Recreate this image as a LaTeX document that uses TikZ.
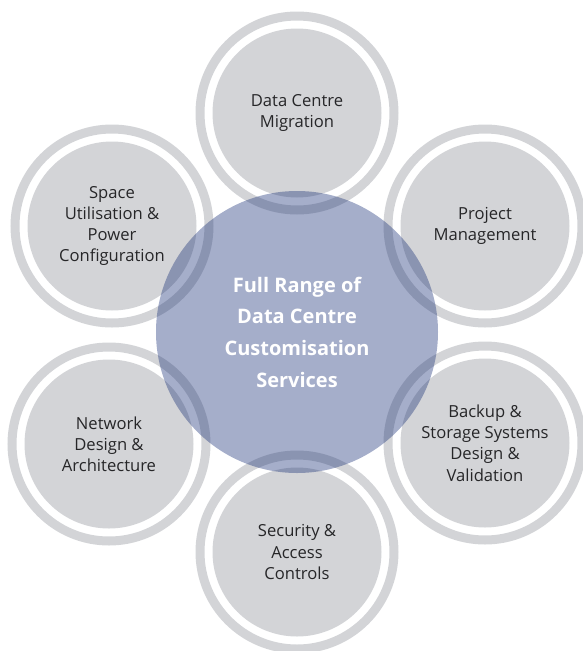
\documentclass[tikz,border=0pt]{standalone}
\usepackage{fontspec}
\setmainfont{Open Sans}
\definecolor{discgray}{RGB}{211,212,215}
\definecolor{hubblue}{RGB}{30,52,122}
\definecolor{labeltext}{RGB}{38,38,40}

\begin{document}
\begin{tikzpicture}[x=1pt, y=-1pt,
    service/.style={circle, fill=discgray, minimum size=169pt, inner sep=0pt,
      align=center, text=labeltext, font=\fontsize{16.6}{21.2}\selectfont},
    halo/.style={draw=discgray, line width=9pt},
    hub/.style={fill=hubblue, fill opacity=0.4}]
  %%%%% START %%%%%
  \useasboundingbox (0,0) rectangle (583,651);

  \node[service] (migration) at (297,113) {Data Centre\\Migration};
  \node[service] (project) at (485,226) {Project\\Management};
  \node[service] (backup) at (485,443) {Backup \&\\Storage Systems\\Design \&\\Validation};
  \node[service] (security) at (297,552) {Security \&\\Access\\Controls};
  \node[service] (network) at (109,444) {Network\\Design \&\\Architecture};
  \node[service] (space) at (112,226) {Space\\Utilisation \&\\Power\\Configuration};

  \foreach \s in {migration,project,backup,security,network,space}
    \draw[halo] (\s.center) circle (97);

  \coordinate (centre) at (297,332);
  \fill[hub] (centre) circle (141);
  \node[text=white, align=center, font=\bfseries\fontsize{20}{31.7}\selectfont]
    (full) at (centre) {Full Range of\\Data Centre\\Customisation\\Services};

  %%%%% END %%%%%
\end{tikzpicture}
\end{document}
